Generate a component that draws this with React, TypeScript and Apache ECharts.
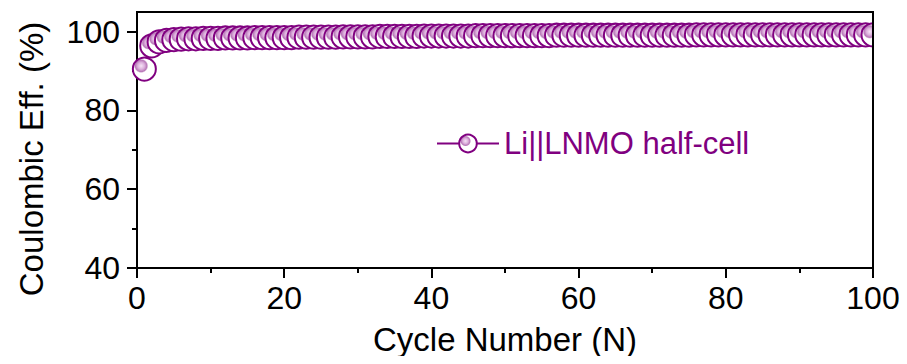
import React, { useEffect, useRef } from "react";
import * as echarts from "echarts";

// Cycle numbers 1..100 and their Coulombic efficiency (%)
const cycles: number[] = Array.from({ length: 100 }, (_, i) => i + 1);
const efficiency: number[] = [
  90.5, 96.4, 97.4, 97.8, 98.0, 98.1, 98.2, 98.2, 98.3, 98.3,
  98.3, 98.4, 98.4, 98.4, 98.4, 98.5, 98.5, 98.5, 98.5, 98.5,
  98.5, 98.6, 98.6, 98.6, 98.6, 98.6, 98.6, 98.7, 98.7, 98.7,
  98.7, 98.7, 98.8, 98.8, 98.8, 98.8, 98.8, 98.8, 98.9, 98.9,
  98.9, 98.9, 98.9, 98.9, 98.9, 99.0, 99.0, 99.0, 99.0, 99.0,
  99.0, 99.0, 99.0, 99.0, 99.0, 99.0, 99.1, 99.1, 99.1, 99.1,
  99.1, 99.1, 99.1, 99.1, 99.1, 99.1, 99.1, 99.1, 99.1, 99.1,
  99.1, 99.1, 99.1, 99.1, 99.1, 99.2, 99.2, 99.2, 99.2, 99.2,
  99.2, 99.2, 99.2, 99.2, 99.2, 99.2, 99.2, 99.2, 99.2, 99.2,
  99.2, 99.2, 99.2, 99.2, 99.2, 99.2, 99.2, 99.2, 99.2, 99.2,
];
const seriesName = "Li||LNMO half-cell";
const xTitle = "Cycle Number (N)";
const yTitle = "Coulombic Eff. (%)";
const yMajorTicks: number[] = [40, 60, 80, 100];
const yMinorTicks: number[] = [50, 70, 90];

const PURPLE = "#800080";
const FONT = "Liberation Sans, Arial, sans-serif";

// plot frame in page pixels
const GRID_LEFT = 137;
const GRID_RIGHT = 34;
const GRID_TOP = 12;
const GRID_BOTTOM = 96;
const W = 907;
const H = 364;

export default function App() {
  const ref = useRef<HTMLDivElement>(null);

  useEffect(() => {
    if (!ref.current) return;
    const chart = echarts.init(ref.current, undefined, { renderer: "svg" });

    const markerFill = new echarts.graphic.RadialGradient(0.36, 0.36, 0.5, [
      { offset: 0, color: "#f6e4f6" },
      { offset: 0.3, color: "#dcb0dc" },
      { offset: 0.5, color: "#b878b8" },
      { offset: 0.62, color: "#ffffff" },
      { offset: 1, color: "#ffffff" },
    ]);

    const yBase = {
      type: "value" as const,
      min: 40,
      max: 105,
      position: "left" as const,
      axisLine: { show: true, onZero: false, lineStyle: { color: "#000", width: 2 } },
      splitLine: { show: false },
    };

    const frameRight = W - GRID_RIGHT;
    const frameBottom = H - GRID_BOTTOM;

    chart.setOption({
      animation: false,
      backgroundColor: "#ffffff",
      grid: {
        left: GRID_LEFT,
        right: GRID_RIGHT,
        top: GRID_TOP,
        bottom: GRID_BOTTOM,
        show: true,
        borderColor: "#000",
        borderWidth: 2,
        backgroundColor: "transparent",
      },
      legend: {
        left: 431,
        top: 123,
        itemWidth: 62,
        itemHeight: 22,
        itemGap: 4,
        textStyle: { color: PURPLE, fontSize: 31, fontFamily: FONT },
        data: [seriesName],
      },
      xAxis: {
        type: "value",
        min: 0,
        max: 100,
        interval: 20,
        name: xTitle,
        nameLocation: "middle",
        nameGap: 55,
        nameTextStyle: { fontSize: 33, fontFamily: FONT, color: "#000" },
        axisLine: { show: true, onZero: false, lineStyle: { color: "#000", width: 2 } },
        axisTick: { show: true, inside: false, length: 10, lineStyle: { color: "#000", width: 2 } },
        minorTick: { show: true, splitNumber: 2, length: 5, lineStyle: { color: "#000", width: 2 } },
        axisLabel: { fontSize: 32, fontFamily: FONT, color: "#000", margin: 14 },
        splitLine: { show: false },
      },
      yAxis: [
        {
          ...yBase,
          axisTick: {
            show: true,
            length: 10,
            customValues: yMajorTicks,
            lineStyle: { color: "#000", width: 2 },
          },
          axisLabel: {
            fontSize: 32,
            fontFamily: FONT,
            color: "#000",
            margin: 17,
            customValues: yMajorTicks,
          },
        },
        {
          ...yBase,
          axisTick: {
            show: true,
            length: 5,
            customValues: yMinorTicks,
            lineStyle: { color: "#000", width: 2 },
          },
          axisLabel: { show: false },
        },
      ],
      graphic: [
        // y-axis title, rotated
        {
          type: "text",
          x: 31,
          y: 159,
          rotation: Math.PI / 2,
          silent: true,
          style: {
            text: yTitle,
            fill: "#000",
            font: `33px ${FONT}`,
            align: "center",
            verticalAlign: "middle",
          },
        },
        // mask markers spilling past the right edge of the frame, then restore the edge
        {
          type: "rect",
          z: 100,
          silent: true,
          shape: { x: frameRight + 1, y: 0, width: GRID_RIGHT, height: frameBottom - 1 },
          style: { fill: "#ffffff" },
        },
        {
          type: "line",
          z: 101,
          silent: true,
          shape: { x1: frameRight, y1: GRID_TOP - 1, x2: frameRight, y2: frameBottom },
          style: { stroke: "#000", lineWidth: 2 },
        },
      ],
      series: [
        {
          name: seriesName,
          type: "line",
          yAxisIndex: 0,
          data: cycles.map((c, i) => [c, efficiency[i]]),
          symbol: "circle",
          symbolSize: 23,
          showAllSymbol: true,
          clip: true,
          lineStyle: { color: PURPLE, width: 2 },
          itemStyle: { color: markerFill, borderColor: PURPLE, borderWidth: 2 },
        },
      ],
    });

    return () => chart.dispose();
  }, []);

  return <div ref={ref} style={{ width: W, height: H, margin: -8 }} />;
}
